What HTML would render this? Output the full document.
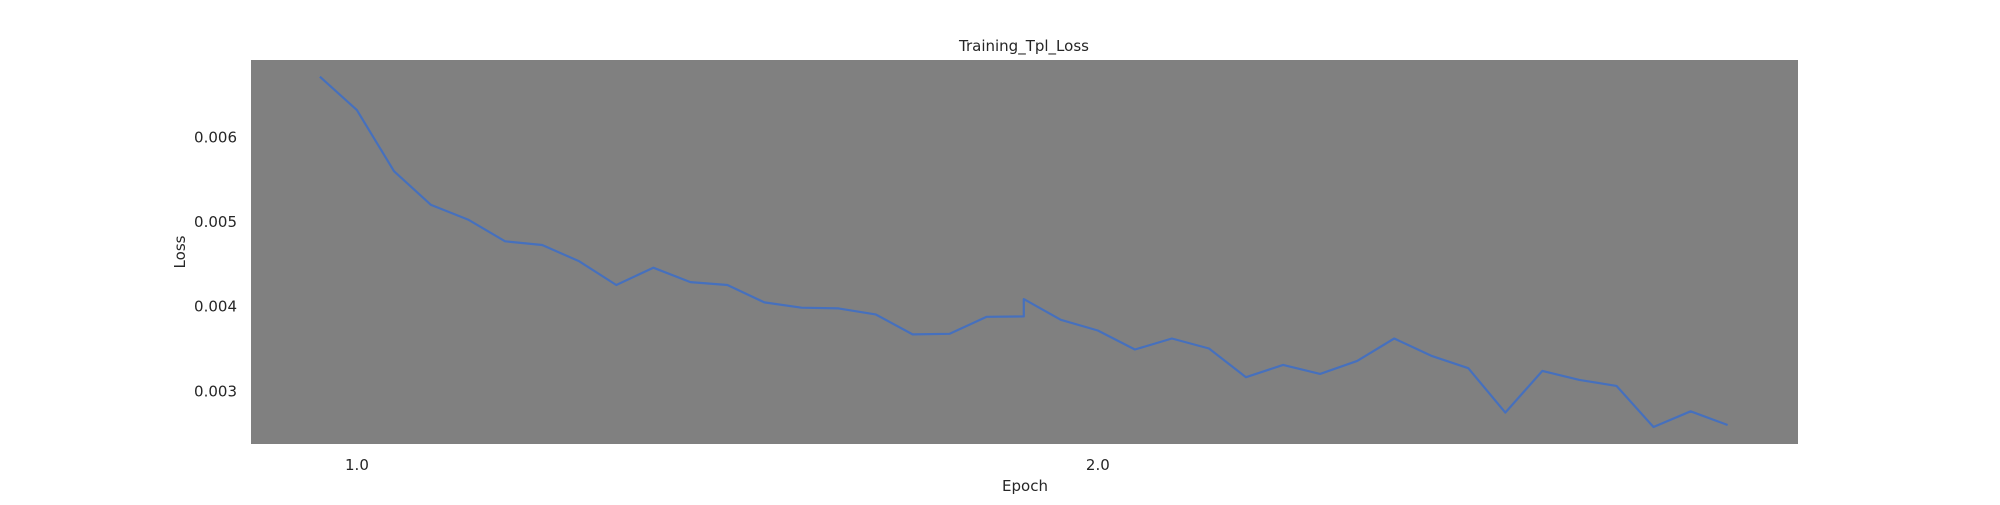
<!DOCTYPE html>
<html><head><meta charset="utf-8"><style>
html,body{margin:0;padding:0;background:#fff;}
svg text{font-family:"DejaVu Sans","Liberation Sans",sans-serif;fill:#262626;}
</style></head><body>
<svg id="chart" width="2000" height="500" viewBox="0 0 2000 500" xmlns="http://www.w3.org/2000/svg">
<rect x="251" y="60" width="1547" height="384" fill="#808080"/>
<text x="1024" y="51" font-size="15" text-anchor="middle">Training_Tpl_Loss</text>
<text x="1025" y="491" font-size="15" text-anchor="middle">Epoch</text>
<text transform="translate(185,252) rotate(-90)" font-size="15" text-anchor="middle">Loss</text>
<g id="yticks"></g><g id="xticks"></g>
<path id="line" fill="none" stroke="#4670bd" stroke-width="2.2" stroke-linejoin="round"/>
</svg>
<script>
const epochs = [0.95,1.0,1.05,1.1,1.15,1.2,1.25,1.3,1.35,1.4,1.45,1.5,1.55,1.6,1.65,1.7,1.75,1.8,1.85,1.9,1.9,1.95,2.0,2.05,2.1,2.15,2.2,2.25,2.3,2.35,2.4,2.45,2.5,2.55,2.6,2.65,2.7,2.75,2.8,2.85];
const losses = [0.006707,0.006312,0.005590,0.005191,0.005018,0.004761,0.004717,0.004525,0.004245,0.004449,0.004279,0.004245,0.004039,0.003976,0.003968,0.003897,0.003660,0.003668,0.003869,0.003873,0.004078,0.003833,0.003707,0.003482,0.003612,0.003494,0.003155,0.003300,0.003194,0.003347,0.003612,0.003407,0.003261,0.002736,0.003229,0.003123,0.003052,0.002566,0.002752,0.002590];
const yTicks = [0.003,0.004,0.005,0.006];
const yTickLabels = ["0.003","0.004","0.005","0.006"];
const xTicks = [1.0,2.0];
const xTickLabels = ["1.0","2.0"];
const X0=251,X1=1798,Y0=60,Y1=444;
const xMin=0.857,xMax=2.945,yMin=0.002365,yMax=0.006904;
function sx(v){return X0+(v-xMin)/(xMax-xMin)*(X1-X0);}
function sy(v){return Y1-(v-yMin)/(yMax-yMin)*(Y1-Y0);}
const NS="http://www.w3.org/2000/svg";
let d="";
epochs.forEach((e,i)=>{d+=(i?"L":"M")+sx(e).toFixed(1)+","+sy(losses[i]).toFixed(1);});
document.getElementById('line').setAttribute('d',d);
const yg=document.getElementById('yticks');
yTicks.forEach((v,i)=>{const t=document.createElementNS(NS,'text');


t.setAttribute('x',237);t.setAttribute('y',sy(v)+6);t.setAttribute('font-size','15');t.setAttribute('text-anchor','end');t.textContent=yTickLabels[i];yg.appendChild(t);});
const xg=document.getElementById('xticks');
xTicks.forEach((v,i)=>{const t=document.createElementNS(NS,'text');


t.setAttribute('x',sx(v));t.setAttribute('y',470);t.setAttribute('font-size','15');t.setAttribute('text-anchor','middle');t.textContent=xTickLabels[i];xg.appendChild(t);});
</script>
</body></html>
